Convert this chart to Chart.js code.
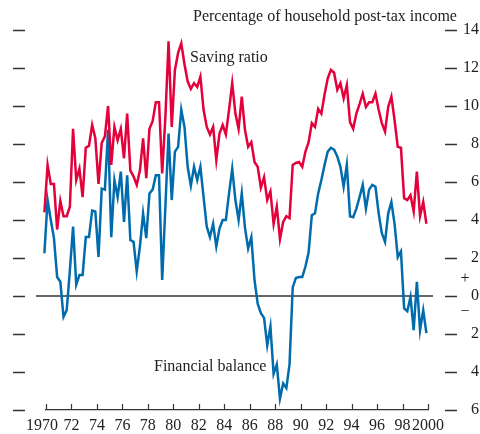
<!DOCTYPE html>
<html>
<head>
<meta charset="utf-8">
<script src="https://cdn.jsdelivr.net/npm/chart.js@4.4.1/dist/chart.umd.min.js"></script>
<style>
  html, body { margin: 0; padding: 0; background: #fff; }
  #wrap { width: 480px; height: 434px; }
</style>
</head>
<body>
<div id="wrap"><canvas id="c" width="480" height="434"></canvas></div>
<script>
// quarterly, 1970 Q1 .. 2000 Q1
var startYear = 1969.875;
var savingRatio = [
  4.4, 6.9, 5.9, 5.9, 3.5, 5.0, 4.2, 4.2, 4.7, 8.8,
  6.1, 6.7, 5.2, 7.8, 7.9, 9.0, 8.3, 5.9, 8.05, 8.4,
  10.0, 6.9, 8.9, 8.2, 8.8, 7.25, 9.6, 6.6, 6.3, 5.85,
  6.6, 8.3, 6.2, 8.8, 9.2, 10.2, 10.2, 6.45, 9.4, 13.4,
  8.9, 11.9, 12.8, 13.3, 12.2, 11.3, 10.9, 11.2, 11.0, 11.55,
  9.8, 8.9, 8.5, 8.9, 7.15, 8.55, 9.0, 8.5, 9.8, 11.2,
  9.6, 8.8, 10.5, 8.75, 7.85, 8.1, 7.05, 6.8, 5.7, 6.25,
  5.05, 5.5, 3.8, 4.7, 3.0, 3.9, 4.2, 4.1, 6.9, 7.0,
  7.05, 6.8, 7.6, 8.1, 9.1, 8.9, 9.85, 9.6, 10.6, 11.45,
  11.9, 11.75, 10.85, 11.2, 10.4, 11.1, 9.15, 8.8, 9.6, 10.1,
  10.65, 9.95, 10.2, 10.2, 10.65, 9.8, 9.1, 8.65, 9.95, 10.5,
  9.25, 7.85, 7.8, 5.15, 5.05, 5.3, 4.45, 6.55, 4.2, 4.95,
  3.8
];
var financialBalance = [
  2.25, 5.05, 4.0, 3.05, 1.0, 0.75, -1.1, -0.75, 1.35, 3.65,
  0.6, 1.1, 1.1, 3.1, 3.1, 4.5, 4.45, 2.05, 5.65, 5.6,
  8.75, 3.1, 6.1, 5.2, 6.55, 3.9, 6.35, 2.95, 2.85, 1.3,
  2.6, 4.35, 3.05, 5.4, 5.6, 6.35, 6.35, 0.85, 4.7, 8.55,
  5.05, 7.6, 7.85, 9.8, 8.9, 6.8, 5.8, 6.8, 6.1, 6.8,
  5.2, 3.65, 3.1, 3.8, 2.6, 3.55, 4.0, 4.0, 5.4, 6.7,
  5.05, 4.0, 5.4, 3.6, 2.5, 3.1, 0.85, -0.4, -0.9, -1.15,
  -2.6, -1.6, -4.1, -3.6, -5.4, -4.6, -4.85, -3.6, 0.45, 0.95,
  1.0, 1.0, 1.55, 2.3, 4.25, 4.35, 5.4, 6.1, 6.9, 7.6,
  7.8, 7.7, 7.35, 6.8, 5.75, 6.9, 4.2, 4.15, 4.6, 5.2,
  5.85, 4.6, 5.6, 5.85, 5.75, 4.35, 3.3, 2.85, 4.35, 4.95,
  3.8, 2.05, 2.35, -0.65, -0.8, -0.05, -1.8, 0.75, -1.8, -0.75,
  -1.95
];
var yTicks = [-6, -4, -2, 0, 2, 4, 6, 8, 10, 12, 14];

var serif = '"Liberation Serif", "DejaVu Serif", serif';
var red = '#e3003b';
var blue = '#006cad';
var ink = '#222';

function toPoints(vals) {
  return vals.map(function (v, i) { return { x: startYear + i * 0.25, y: v }; });
}

var decor = {
  id: 'decor',
  beforeDatasetsDraw: function (chart) {
    var ctx = chart.ctx, y = chart.scales.y;
    var y0 = y.getPixelForValue(0);
    ctx.save();
    ctx.strokeStyle = '#333';
    ctx.lineWidth = 1.5;
    ctx.beginPath();
    ctx.moveTo(36, y0);
    ctx.lineTo(433, y0);
    ctx.stroke();
    ctx.restore();
  },
  afterDraw: function (chart) {
    var ctx = chart.ctx, x = chart.scales.x, y = chart.scales.y;
    var area = chart.chartArea;
    ctx.save();
    // side tick dashes
    ctx.strokeStyle = '#333';
    ctx.lineWidth = 1.6;
    yTicks.forEach(function (v) {
      var py = Math.round(y.getPixelForValue(v)) + 0.5;
      ctx.beginPath();
      ctx.moveTo(13, py); ctx.lineTo(25, py);
      ctx.moveTo(445, py); ctx.lineTo(457, py);
      ctx.stroke();
    });
    // year ticks pointing up from the axis
    ctx.lineWidth = 1.2;
    x.ticks.forEach(function (t) {
      var px = Math.round(x.getPixelForValue(t.value)) + 0.5;
      ctx.beginPath();
      ctx.moveTo(px, area.bottom);
      ctx.lineTo(px, area.bottom - 6);
      ctx.stroke();
    });
    // texts
    ctx.fillStyle = ink;
    ctx.font = '16px ' + serif;
    ctx.textBaseline = 'middle';
    ctx.textAlign = 'left';
    ctx.fillText('Percentage of household post-tax income', 193, 17);
    ctx.fillText('Saving ratio', 190, 58);
    ctx.fillText('Financial balance', 154, 367);
    ctx.textAlign = 'center';
    var y0 = y.getPixelForValue(0);
    ctx.fillText('+', 465, y0 - 17);
    ctx.fillText('\u2212', 465, y0 + 16);
    ctx.restore();
  }
};

new Chart(document.getElementById('c'), {
  type: 'line',
  data: {
    datasets: [
      { label: 'Saving ratio', data: toPoints(savingRatio), borderColor: red, borderWidth: 2.5, pointRadius: 0, tension: 0, clip: 4 },
      { label: 'Financial balance', data: toPoints(financialBalance), borderColor: blue, borderWidth: 2.5, pointRadius: 0, tension: 0, clip: 4 }
    ]
  },
  plugins: [decor],
  options: {
    responsive: false,
    animation: false,
    events: [],
    layout: { padding: { left: 46, right: 1, top: 30, bottom: 0 } },
    plugins: { legend: { display: false }, tooltip: { enabled: false } },
    scales: {
      x: {
        type: 'linear',
        min: 1970,
        max: 2000,
        afterFit: function (s) {
          s.height = 24;
          s.paddingLeft = 0; s.paddingRight = 0;
        },
        grid: { display: false, drawTicks: false },
        border: { display: true, color: '#333', width: 1.2 },
        ticks: {
          stepSize: 2,
          autoSkip: false,
          maxRotation: 0,
          padding: 6,
          color: ink,
          font: { family: serif, size: 16 },
          callback: function (v) {
            if (v === 1970) return '1970\u2002';   // pushed a bit left, as in the source
            if (v === 2000) return '2000';
            return String(v).slice(2);
          }
        }
      },
      y: {
        position: 'right',
        min: -6,
        max: 14,
        afterFit: function (s) {
          s.width = 51;
          s.paddingTop = 0; s.paddingBottom = 0;
        },
        grid: { display: false, drawTicks: false },
        border: { display: false },
        ticks: {
          stepSize: 2,
          padding: 34,
          crossAlign: 'far',
          color: ink,
          font: { family: serif, size: 16 },
          callback: function (v) { return String(Math.abs(v)); }
        }
      }
    }
  }
});
</script>
</body>
</html>
